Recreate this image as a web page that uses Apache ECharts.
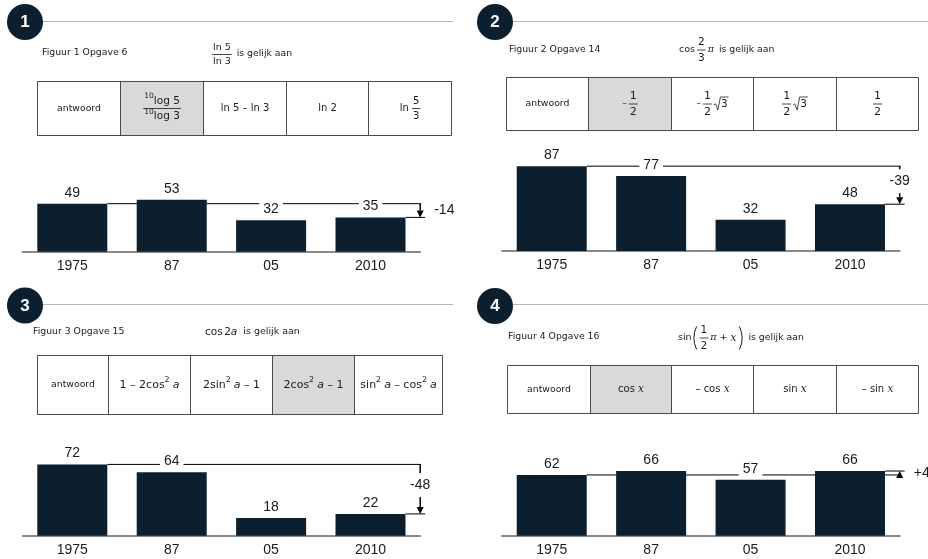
<!DOCTYPE html>
<html>
<head>
<meta charset="utf-8">
<script src="https://cdn.jsdelivr.net/npm/echarts@6/dist/echarts.min.js"></script>
<style>
  html, body { margin: 0; padding: 0; background: #fff; }
  #main { width: 928px; height: 559px; }
</style>
</head>
<body>
<div id="main"></div>
<script>
// Jaartallen op de x-as (gelijk voor alle vier figuren)
const years = ['1975', '87', '05', '2010'];

// Percentage goede antwoorden per figuur
const values1 = [49, 53, 32, 35];
const values2 = [87, 77, 32, 48];
const values3 = [72, 64, 18, 22];
const values4 = [62, 66, 57, 66];

// Verandering tussen 1975 en 2010 zoals vermeld bij de pijl
const changes = [-14, -39, -48, 4];

const NAVY = '#0b1f2e';
const INK = '#1a1a1a';
const SANS = 'DejaVu Sans';
const SERIF = 'DejaVu Serif';
const NUMFONT = 'Liberation Sans';
const BAR_W = 70;

// ---------- tekst meten voor de formules ----------
const mctx = document.createElement('canvas').getContext('2d');
function measure(s, size, fam, it) {
  mctx.font = (it ? 'italic ' : '') + size + 'px "' + fam + '"';
  return mctx.measureText(s).width;
}

const G = [];
function addText(x, y, s, size, fam, it, opt) {
  opt = opt || {};
  G.push({
    type: 'text', x: x, y: y, silent: true,
    style: {
      text: s, fontSize: size, fontFamily: fam, fontStyle: it ? 'italic' : 'normal',
      fontWeight: opt.bold ? 'bold' : 'normal',
      fill: opt.fill || INK,
      align: opt.align || 'left', textAlign: opt.align || 'left',
      verticalAlign: 'middle', textVerticalAlign: 'middle'
    }
  });
}
function addLine(x1, y1, x2, y2, color, w) {
  G.push({ type: 'line', silent: true, shape: { x1: x1, y1: y1, x2: x2, y2: y2 },
           style: { stroke: color, lineWidth: w } });
}

// formule-onderdelen: elk heeft een breedte en een emit(x, cy)
function T(s, size, opt) {
  opt = opt || {};
  const fam = opt.fam || SANS, it = !!opt.it, dy = opt.dy || 0;
  const w = measure(s, size, fam, it);
  return { w: w, emit: function (x, cy) { addText(x, cy + dy, s, size, fam, it); } };
}
function Sup(s, size) { return T(s, size * 0.72, { dy: -size * 0.42 }); }
function Gap(w) { return { w: w, emit: function () {} }; }
function Row(parts) {
  const w = parts.reduce(function (a, p) { return a + p.w; }, 0);
  return { w: w, emit: function (x, cy) {
    let cx = x;
    parts.forEach(function (p) { p.emit(cx, cy); cx += p.w; });
  } };
}
function Frac(num, den, size) {
  const w = Math.max(num.w, den.w) + 2;
  return { w: w, emit: function (x, cy) {
    num.emit(x + (w - num.w) / 2, cy - size * 0.72);
    den.emit(x + (w - den.w) / 2, cy + size * 0.78);
    addLine(x, cy, x + w, cy, INK, 0.8);
  } };
}
function Sqrt(inner) {
  const w = inner.w + 8;
  return { w: w, emit: function (x, cy) {
    G.push({ type: 'polyline', silent: true,
      shape: { points: [[x, cy + 1], [x + 1.6, cy - 0.2], [x + 4, cy + 6], [x + 6.5, cy - 7], [x + w, cy - 7]] },
      style: { stroke: INK, lineWidth: 0.8, fill: null } });
    inner.emit(x + 7, cy + 0.5);
  } };
}
function Paren(left, h) {
  const w = 5;
  return { w: w, emit: function (x, cy) {
    const xe = left ? x + 4 : x + 1, xc = left ? x - 1.5 : x + 6.5;
    G.push({ type: 'bezierCurve', silent: true,
      shape: { x1: xe, y1: cy - h / 2, x2: xe, y2: cy + h / 2, cpx1: xc, cpy1: cy },
      style: { stroke: INK, lineWidth: 1, fill: null } });
  } };
}
function place(p, x, cy, center) { p.emit(center ? x - p.w / 2 : x, cy); }

// ---------- kop met nummer ----------
function header(cx, cy, num, lineY, lineEnd) {
  G.push({ type: 'circle', silent: true, shape: { cx: cx, cy: cy, r: 18 }, style: { fill: NAVY } });
  addText(cx, cy + 0.5, num, 17, NUMFONT, false, { bold: true, fill: '#ffffff', align: 'center' });
  addLine(cx + 18, lineY, lineEnd, lineY, '#b4b4b4', 1);
}

// ---------- antwoordtabel ----------
function table(xs, y0, y1, hi, cells) {
  const X = xs.map(function (v) { return Math.round(v) + 0.5; });
  const top = Math.round(y0) + 0.5, bot = Math.round(y1) + 0.5;
  G.push({ type: 'rect', silent: true,
    shape: { x: X[hi], y: top, width: X[hi + 1] - X[hi], height: bot - top },
    style: { fill: '#d9d9d9' } });
  addLine(X[0], top, X[5], top, '#4a4a4a', 1);
  addLine(X[0], bot, X[5], bot, '#4a4a4a', 1);
  X.forEach(function (x) { addLine(x, top, x, bot, '#4a4a4a', 1); });
  const cy = (top + bot) / 2;
  cells.forEach(function (c, i) { place(c, (X[i] + X[i + 1]) / 2, cy, true); });
}

const ita = function (s, size) { return T(s, size, { fam: SERIF, it: true }); };
const itaA = function (size) { return T('a', size, { it: true }); };

// Figuur 1
header(25, 22, '1', 21.5, 453);
addText(42, 53, 'Figuur 1 Opgave 6', 9.3, SANS, false);
place(Row([Frac(T('ln 5', 9.5), T('ln 3', 9.5), 9.5), Gap(5), T('is gelijk aan', 9.3, { dy: -0.5 })]), 212, 54.5);
table([37, 120, 203, 286, 368, 451], 81, 135, 1, [
  T('antwoord', 9.3),
  Frac(Row([Sup('10', 10.5), T('log 5', 10.5)]), Row([Sup('10', 10.5), T('log 3', 10.5)]), 10.5),
  T('ln 5 – ln 3', 10),
  T('ln 2', 10),
  Row([T('ln ', 10), Frac(T('5', 10), T('3', 10), 10)])
]);

// Figuur 2
header(495, 22, '2', 21.5, 928);
addText(509, 50, 'Figuur 2 Opgave 14', 9.3, SANS, false);
place(Row([T('cos', 9.5), Gap(2), Frac(T('2', 10.5), T('3', 10.5), 10.5), Gap(2), ita('π', 9.5), Gap(5), T('is gelijk aan', 9.3)]), 679, 50);
const half = function () { return Frac(T('1', 11), T('2', 11), 11); };
table([506, 588, 671, 753, 836, 918], 77, 130, 1, [
  T('antwoord', 9.3),
  Row([T('–', 9), Gap(2), half()]),
  Row([T('–', 9), Gap(2), half(), Gap(2), Sqrt(T('3', 10.5))]),
  Row([half(), Gap(2), Sqrt(T('3', 10.5))]),
  half()
]);

// Figuur 3
header(25, 305.5, '3', 304.5, 453);
addText(33, 332, 'Figuur 3 Opgave 15', 9.3, SANS, false);
place(Row([T('cos', 10.5), Gap(1.5), T('2', 10.5), itaA(10.5), Gap(6), T('is gelijk aan', 9.5)]), 205, 332);
table([37, 108, 190, 272, 354, 442], 355, 414, 3, [
  T('antwoord', 9.3),
  Row([T('1 – 2cos', 11), Sup('2', 11), Gap(3), itaA(11)]),
  Row([T('2sin', 11), Sup('2', 11), Gap(3), itaA(11), T(' – 1', 11)]),
  Row([T('2cos', 11), Sup('2', 11), Gap(3), itaA(11), T(' – 1', 11)]),
  Row([T('sin', 11), Sup('2', 11), Gap(3), itaA(11), T(' – cos', 11), Sup('2', 11), Gap(3), itaA(11)])
]);

// Figuur 4
header(495, 306, '4', 304.5, 928);
addText(508, 337, 'Figuur 4 Opgave 16', 9.3, SANS, false);
place(Row([T('sin', 9.5), Gap(1), Paren(true, 23), Gap(2), Frac(T('1', 10.5), T('2', 10.5), 10.5), Gap(2), ita('π', 9.5),
           Gap(3), T('+', 9.5), Gap(3), ita('x', 10.5), Gap(2), Paren(false, 23), Gap(5), T('is gelijk aan', 9.3)]), 678, 338);
table([507, 590, 671, 753, 836, 918], 365, 413, 1, [
  T('antwoord', 9.3),
  Row([T('cos ', 10), ita('x', 10.5)]),
  Row([T('– cos ', 10), ita('x', 10.5)]),
  Row([T('sin ', 10), ita('x', 10.5)]),
  Row([T('– sin ', 10), ita('x', 10.5)])
]);

// ---------- staafdiagrammen ----------
const panels = [
  { values: values1, change: changes[0], grid: { left: 22.6, top: 153.7, width: 397.6, height: 98 } },
  { values: values2, change: changes[1], grid: { left: 502, top: 153.5, width: 397.7, height: 97.5 } },
  { values: values3, change: changes[2], grid: { left: 22.6, top: 436.7, width: 397.6, height: 99 } },
  { values: values4, change: changes[3], grid: { left: 502, top: 437.7, width: 397.7, height: 98 } }
];

// lijn op het niveau van 1975, pijl naar het niveau van 2010 en de verandering
function renderChange(params, api) {
  const last = api.value(0);
  const v0 = api.value(1), vN = api.value(2), diff = api.value(3);
  const band = api.size([1, 0])[0];
  const p0 = api.coord([0, v0]);
  const pN = api.coord([last, vN]);
  const ax = pN[0] + band / 2;
  const y0 = p0[1], yN = pN[1];
  const dir = yN > y0 ? 1 : -1;
  const head = 7;
  const lineStyle = { stroke: '#000', lineWidth: 1 };
  const children = [
    { type: 'line', shape: { x1: p0[0] + BAR_W / 2, y1: y0, x2: ax + 1, y2: y0 }, style: lineStyle },
    { type: 'line', shape: { x1: pN[0] + BAR_W / 2, y1: yN, x2: ax + 5, y2: yN }, style: lineStyle },
    { type: 'line', shape: { x1: ax, y1: y0, x2: ax, y2: yN - dir * head }, style: { stroke: '#000', lineWidth: 1.5 } },
    { type: 'polygon', shape: { points: [[ax - 3.5, yN - dir * head], [ax + 3.5, yN - dir * head], [ax, yN]] },
      style: { fill: '#000' } }
  ];
  const text = (diff > 0 ? '+' : '') + diff;
  const span = Math.abs(yN - y0);
  const textStyle = {
    text: text, fontSize: 14, fontFamily: NUMFONT, fill: INK,
    verticalAlign: 'middle', textVerticalAlign: 'middle'
  };
  if (span > 30) {
    children.push({ type: 'text', x: ax, y: (y0 + yN) / 2 - 4,
      style: Object.assign({}, textStyle, { align: 'center', textAlign: 'center', backgroundColor: '#fff', padding: [5, 1] }) });
  } else {
    children.push({ type: 'text', x: ax + 14, y: (y0 + yN) / 2,
      style: Object.assign({}, textStyle, { align: 'left', textAlign: 'left' }) });
  }
  return { type: 'group', children: children };
}

const option = {
  animation: false,
  backgroundColor: '#ffffff',
  graphic: { elements: G },
  grid: panels.map(function (p) { return p.grid; }),
  xAxis: panels.map(function (p, i) {
    return {
      type: 'category', gridIndex: i, data: years,
      axisLine: { lineStyle: { color: '#8a8a8a', width: 2 } },
      axisTick: { show: false },
      axisLabel: { fontSize: 14, color: INK, margin: 7, fontFamily: NUMFONT }
    };
  }),
  yAxis: panels.map(function (p, i) {
    return { type: 'value', gridIndex: i, min: 0, max: 100, show: false };
  }),
  series: []
};

panels.forEach(function (p, i) {
  option.series.push({
    type: 'bar', xAxisIndex: i, yAxisIndex: i, z: 2,
    data: p.values, barWidth: BAR_W,
    itemStyle: { color: NAVY },
    label: {
      show: true, position: 'top', distance: 1,
      fontSize: 14, fontFamily: NUMFONT, color: INK,
      backgroundColor: '#ffffff', padding: [3, 4, 3, 4]
    }
  });
  option.series.push({
    type: 'custom', xAxisIndex: i, yAxisIndex: i, z: 1,
    dimensions: ['lastIndex', 'first', 'last', 'change'],
    encode: { x: 0, y: 1 },
    data: [[p.values.length - 1, p.values[0], p.values[p.values.length - 1], p.change]],
    renderItem: renderChange
  });
});

const chart = echarts.init(document.getElementById('main'), null, { renderer: 'canvas' });
chart.setOption(option);
</script>
</body>
</html>
